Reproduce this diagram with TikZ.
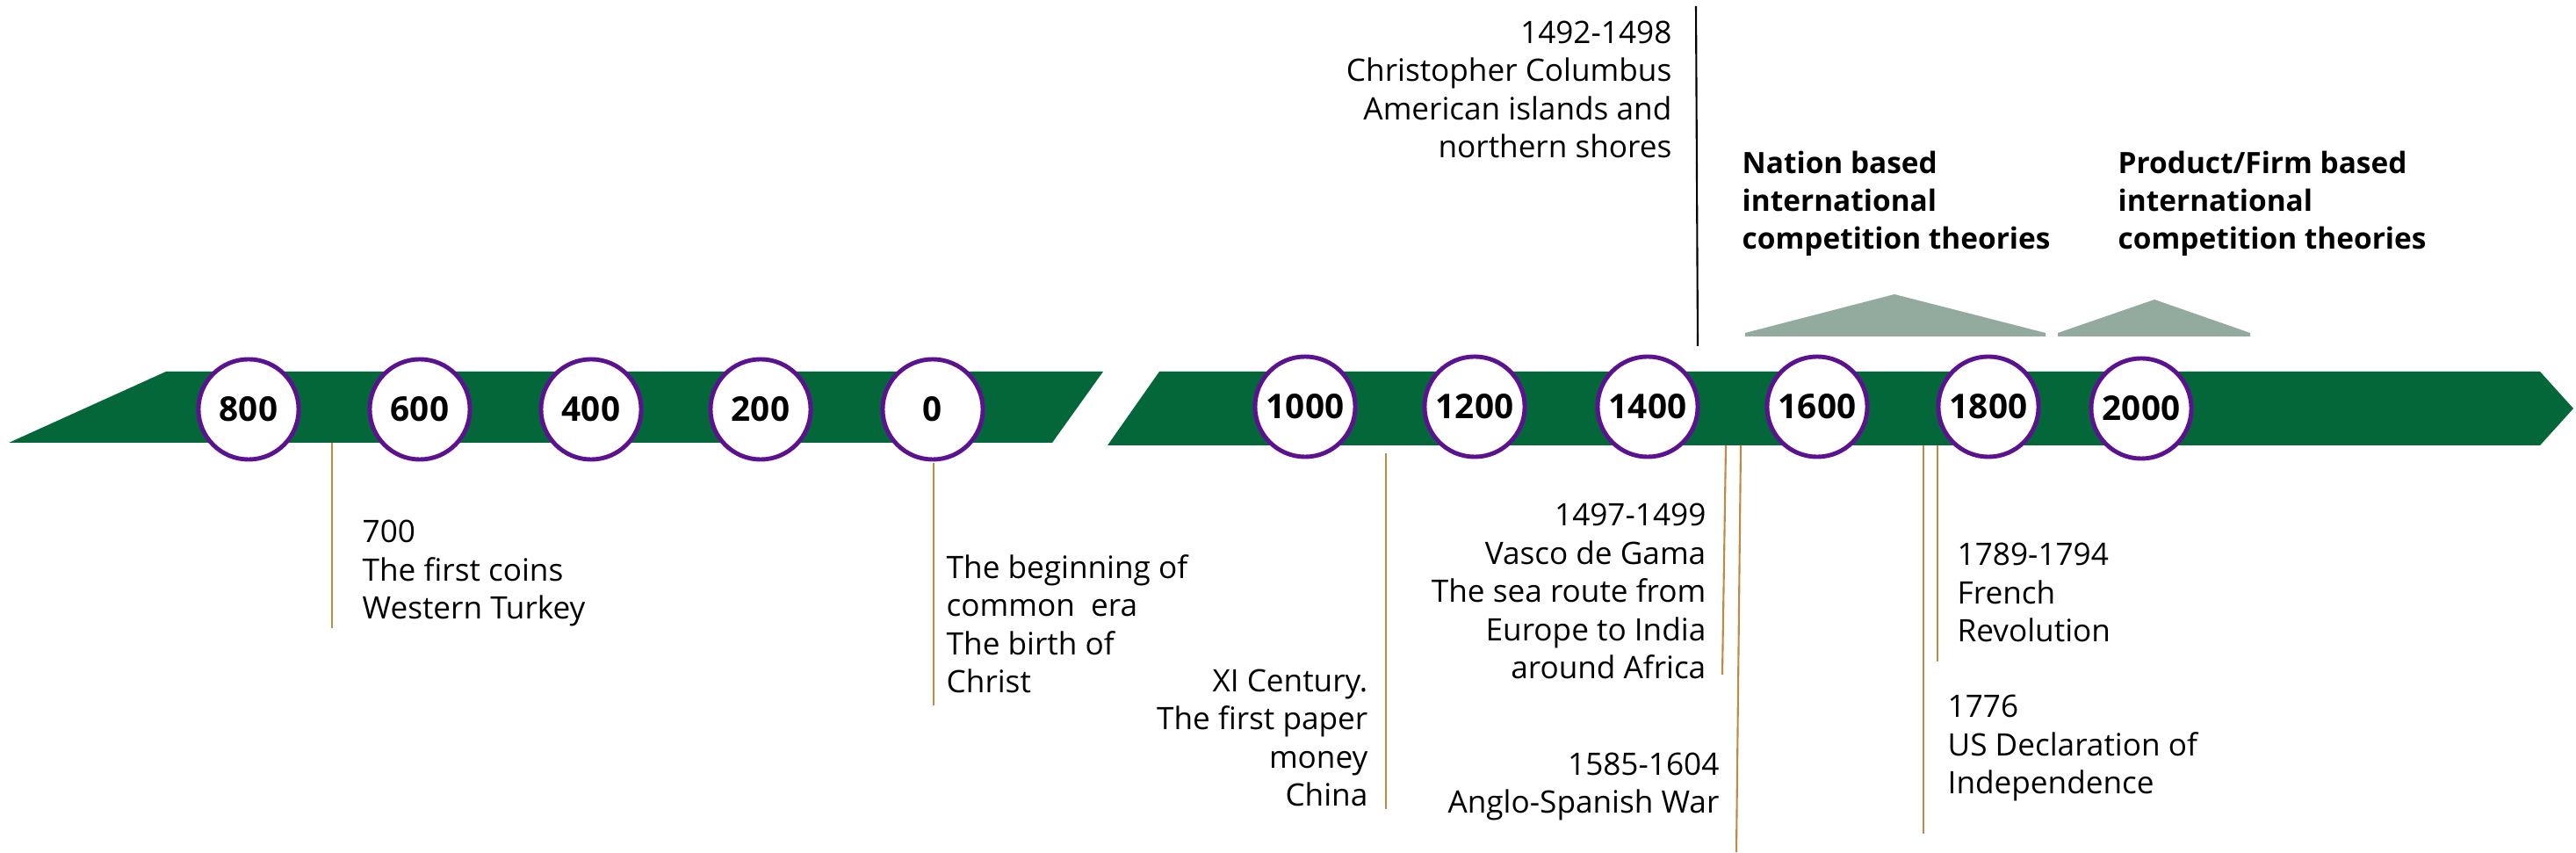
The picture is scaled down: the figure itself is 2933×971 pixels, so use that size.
\documentclass[tikz,border=0pt]{standalone}
\usepackage{fontspec}
\setmainfont{Open Sans}
\definecolor{band}{HTML}{04673A}
\definecolor{ring}{HTML}{5B1190}
\definecolor{hill}{HTML}{93AA9F}
\definecolor{stem}{HTML}{C08A40}

\begin{document}
\begin{tikzpicture}[x=0.01cm, y=-0.01cm,
  every node/.style={inner sep=0pt},
  year/.style={circle, draw=ring, line width=1.4pt, fill=white, minimum size=1.14cm, font=\fontsize{11}{13}\selectfont\bfseries},
  note/.style={font=\fontsize{10}{12.4}\selectfont},
  head/.style={font=\fontsize{9.5}{12.3}\selectfont\bfseries, align=left, anchor=base west},
  stemline/.style={draw=stem, line width=0.6pt}]
\useasboundingbox (0,0) rectangle (2933,971);

% Bands
\fill[band] (10,504) -- (189,423) -- (1256,423) -- (1198,504) -- cycle;
\fill[band] (1261,507) -- (1320,423) -- (2892,423) -- (2930,465) -- (2892,507) -- cycle;

% Theory hills
\fill[hill] (1987,383) -- (1987,379) -- (2157,335) -- (2329,379) -- (2329,383) -- cycle;
\fill[hill] (2343,383) -- (2343,379) -- (2453,341) -- (2562,379) -- (2562,383) -- cycle;

% Stems
\coordinate (s700a) at (378,504);   \coordinate (s700b) at (378,715);
\coordinate (s0a) at (1063,527);    \coordinate (s0b) at (1063,803);
\coordinate (sxia) at (1578,516);   \coordinate (sxib) at (1578,921);
\coordinate (sgama) at (1965,507);  \coordinate (sgamb) at (1961,768);
\coordinate (swara) at (1982,507);  \coordinate (swarb) at (1977,970);
\coordinate (susa) at (2190,507);   \coordinate (susb) at (2190,949);
\coordinate (sfra) at (2206,507);   \coordinate (sfrb) at (2206,753);
\coordinate (scola) at (1931,7);    \coordinate (scolb) at (1933,394);
\draw[stemline] (s700a) -- (s700b);
\draw[stemline] (s0a) -- (s0b);
\draw[stemline] (sxia) -- (sxib);
\draw[stemline] (sgama) -- (sgamb);
\draw[stemline] (swara) -- (swarb);
\draw[stemline] (susa) -- (susb);
\draw[stemline] (sfra) -- (sfrb);
\draw[line width=0.6pt] (scola) -- (scolb);

% Years before common era
\node[year] (y800) at (283,466) {800};
\node[year] (y600) at (478,466) {600};
\node[year] (y400) at (673,466) {400};
\node[year] (y200) at (866,466) {200};
\node[year] (y0) at (1062,466) {0};

% Years of common era
\node[year] (y1000) at (1486,463) {1000};
\node[year] (y1200) at (1679,463) {1200};
\node[year] (y1400) at (1876,463) {1400};
\node[year] (y1600) at (2069,463) {1600};
\node[year] (y1800) at (2264,463) {1800};
\node[year] (y2000) at (2438,465) {2000};

% Events (anchored at the baseline of the last line)
\node[note, align=left, anchor=base west] (coins) at (412,705) {700\\The first coins\\Western Turkey};
\node[note, align=left, anchor=base west] (era) at (1077,789) {The beginning of\\common\ \ era\\The birth of\\Christ};
\node[note, align=right, anchor=base east] (paper) at (1558,918) {XI Century.\\The first paper\\money\\China};
\node[note, align=right, anchor=base east] (columbus) at (1904,180) {1492-1498\\Christopher Columbus\\American islands and\\northern shores};
\node[note, align=right, anchor=base east] (gama) at (1943,773) {1497-1499\\Vasco de Gama\\The sea route from\\Europe to India\\around Africa};
\node[note, align=right, anchor=base east] (war) at (1958,926) {1585-1604\\Anglo-Spanish War};
\node[note, align=left, anchor=base west] (french) at (2228,731) {1789-1794\\French\\Revolution};
\node[note, align=left, anchor=base west] (usa) at (2217,904) {1776\\US Declaration of\\Independence};

% Theories
\node[head] (nation) at (1983,284) {Nation based\\international\\competition theories};
\node[head] (firm) at (2411,284) {Product/Firm based\\international\\competition theories};
\end{tikzpicture}
\end{document}
